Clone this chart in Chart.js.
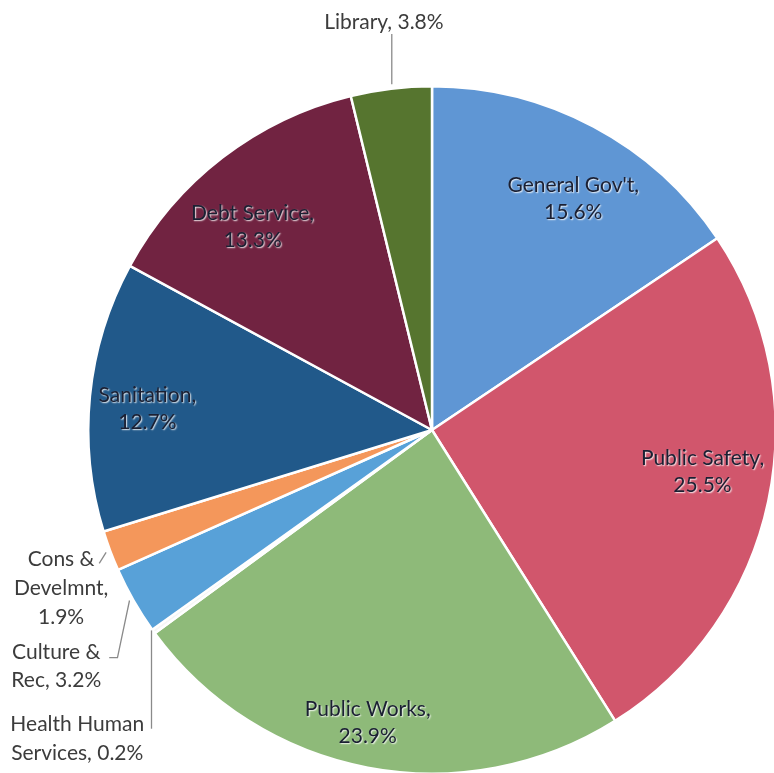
<!DOCTYPE html>
<html>
<head>
<meta charset="utf-8">
<script src="https://cdn.jsdelivr.net/npm/chart.js@4/dist/chart.umd.min.js"></script>
<style>
  html, body { margin: 0; padding: 0; background: #ffffff; overflow: hidden; }
  #wrap { position: relative; width: 774px; height: 773px; overflow: hidden; }
  #budget { display: block; }
</style>
</head>
<body>
<div id="wrap"><canvas id="budget" width="777" height="775"></canvas></div>
<script>
// Budget share by department, clockwise from 12 o'clock
const categories = [
  "General Gov't", "Public Safety", "Public Works", "Health Human Services",
  "Culture & Rec", "Cons & Develmnt", "Sanitation", "Debt Service", "Library"
];
const shares = [15.6, 25.5, 23.9, 0.2, 3.2, 1.9, 12.7, 13.3, 3.8];
const sliceColors = [
  "#5f96d4", "#d1566c", "#8eba79", "#f6f6f6",
  "#58a1d8", "#f4975b", "#21598a", "#712341", "#56752f"
];
// Text of each data label, line by line
const labelLines = [
  ["General Gov't,", "15.6%"],
  ["Public Safety,", "25.5%"],
  ["Public Works,", "23.9%"],
  ["Health Human", "Services, 0.2%"],
  ["Culture &", "Rec, 3.2%"],
  ["Cons &", "Develmnt,", "1.9%"],
  ["Sanitation,", "12.7%"],
  ["Debt Service,", "13.3%"],
  ["Library, 3.8%"]
];

// Label placement, in units of the pie radius from its centre.
// inside: label drawn on the slice; outside: label beside the pie with a leader line.
const labelLayout = [
  { inside: true,  at: [0.411, -0.673] },
  { inside: true,  at: [0.787,  0.122] },
  { inside: true,  at: [-0.187, 0.851] },
  { inside: false, at: [-1.032, 0.897], lh: 29,
    leader: [[-0.816, 0.583], [-0.816, 0.869]] },
  { inside: false, at: [-1.093, 0.687], lh: 28,
    leader: [[-0.880, 0.496], [-0.915, 0.662], [-0.939, 0.662]] },
  { inside: false, at: [-1.079, 0.461], lh: 29,
    leader: [[-0.948, 0.356], [-0.968, 0.388]] },
  { inside: true,  at: [-0.828, -0.061] },
  { inside: true,  at: [-0.522, -0.592] },
  { inside: false, at: [-0.140, -1.187], lh: 27,
    leader: [[-0.117, -1.006], [-0.117, -1.152]] }
];

const labelPlugin = {
  id: 'sliceLabels',
  afterDatasetsDraw(chart) {
    const ctx = chart.ctx;
    const arcs = chart.getDatasetMeta(0).data;
    if (!arcs.length) return;
    const cx = arcs[0].x, cy = arcs[0].y, R = arcs[0].outerRadius;
    ctx.save();
    ctx.textAlign = 'center';
    ctx.textBaseline = 'middle';
    ctx.font = '21px Lato, "Open Sans", sans-serif';
    labelLayout.forEach((lay, i) => {
      const lines = labelLines[i];
      const x = cx + lay.at[0] * R;
      const y = cy + lay.at[1] * R;
      if (lay.inside) {
        const lh = 27;
        const y0 = y - (lines.length - 1) * lh / 2;
        lines.forEach((t, k) => {
          ctx.save();
          ctx.shadowColor = 'rgba(255,255,255,0.9)';
          ctx.shadowOffsetX = 1;
          ctx.shadowOffsetY = 1.2;
          ctx.shadowBlur = 1.5;
          ctx.fillStyle = '#1b2033';
          ctx.fillText(t, x, y0 + k * lh);
          ctx.restore();
        });
      } else {
        ctx.strokeStyle = '#8a8a8a';
        ctx.lineWidth = 1.3;
        ctx.beginPath();
        lay.leader.forEach((p, k) => {
          const px = cx + p[0] * R, py = cy + p[1] * R;
          if (k === 0) ctx.moveTo(px, py); else ctx.lineTo(px, py);
        });
        ctx.stroke();
        const lh = lay.lh;
        const y0 = y - (lines.length - 1) * lh / 2;
        ctx.fillStyle = '#3c3c3c';
        lines.forEach((t, k) => ctx.fillText(t, x, y0 + k * lh));
      }
    });
    ctx.restore();
  }
};

new Chart(document.getElementById('budget'), {
  type: 'pie',
  data: {
    labels: categories,
    datasets: [{
      data: shares,
      backgroundColor: sliceColors,
      borderColor: '#ffffff',
      borderWidth: 2.5
    }]
  },
  options: {
    responsive: false,
    animation: false,
    rotation: 0,
    layout: { padding: { left: 87, top: 85, right: 0, bottom: 0 } },
    plugins: {
      legend: { display: false },
      tooltip: { enabled: false }
    }
  },
  plugins: [labelPlugin]
});
</script>
</body>
</html>
